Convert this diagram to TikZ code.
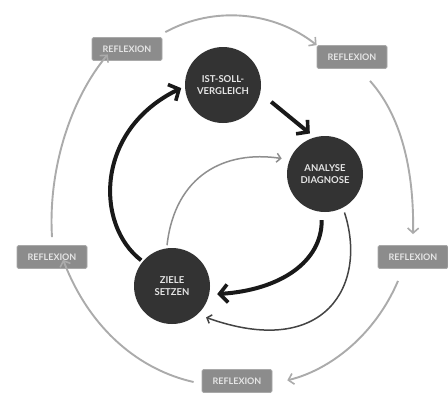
\documentclass[tikz,border=0pt]{standalone}
\usepackage{fontspec}
\setmainfont{Lato}
\usetikzlibrary{arrows.meta}
\definecolor{circ}{HTML}{333333}
\definecolor{boxc}{HTML}{8C8C8C}
\definecolor{arcc}{HTML}{ABABAB}
\definecolor{thinc}{HTML}{444444}
\tikzset{
  phase/.style={circle,fill=circ,minimum size=76pt,inner sep=0pt,text=white!90!black,
    font=\fontsize{9.5}{12}\selectfont\bfseries,align=center},
  refl/.style={rectangle,rounded corners=1.5pt,fill=boxc,draw=boxc!75,line width=0.8pt,minimum width=70pt,
    minimum height=23pt,text=white!90!black,font=\fontsize{9}{10}\selectfont\bfseries},
  outerarc/.style={draw=arcc,line width=1.9pt,-{Straight Barb[length=5pt,width=11pt,line width=1.6pt]}},
  thick arc/.style={draw=black!90,line width=4pt,-{Straight Barb[length=8pt,width=18pt,line width=3.6pt]}},
  thin arc/.style={line width=1.5pt,-{Straight Barb[length=4pt,width=9pt,line width=1.5pt]}}
}
\begin{document}
\begin{tikzpicture}[x=1pt,y=-1pt]
\useasboundingbox[fill=white] (0,0) rectangle (448,400);
% circles
\node[phase] (ist) at (223,85) {IST-SOLL-\\VERGLEICH};
\node[phase] (ana) at (325,174) {ANALYSE\\DIAGNOSE};
\node[phase] (zie) at (172,286) {ZIELE\\SETZEN};
% reflexion boxes
\node[refl] (rtl) at (127,49) {REFLEXION};
\node[refl] (rtr) at (352,57) {REFLEXION};
\node[refl] (rr) at (413,257) {REFLEXION};
\node[refl] (rb) at (237,381) {REFLEXION};
\node[refl] (rl) at (52,257) {REFLEXION};
% outer arcs
\draw[outerarc] (rtl.north east) ++(3,-5) coordinate (a1)
  (a1) .. controls (215,5) and (275,12) .. (rtr.north west);
\draw[outerarc,shorten >=3pt] (rtr.south) ++(18,12) coordinate (a2)
  (a2) .. controls (405,120) and (414,180) .. ([yshift=8pt]rr.north);
\draw[outerarc,shorten >=3pt] (rr.south) ++(-15,12) coordinate (a3)
  (a3) .. controls (375,335) and (330,370) .. ([xshift=12pt]rb.east);
\draw[outerarc,shorten >=3pt] (rb.west) ++(-8,1) coordinate (a4)
  (a4) .. controls (140,370) and (90,330) .. ([xshift=10pt,yshift=12pt]rl.south);
\draw[outerarc,shorten >=2pt] (rl.north) ++(0,-8) coordinate (a5)
  (a5) .. controls (48,170) and (70,100) .. ([xshift=-18pt,yshift=8pt]rtl.south);
% thick black arrows
\draw[thick arc,shorten <=14pt,shorten >=6pt] (ist.-12) -- (ana.106);
\draw[thick arc,shorten <=8pt,shorten >=8pt] (ana.-95) .. controls (322,262) and (280,290) .. (zie.-13);
\draw[thick arc,shorten <=2pt,shorten >=4pt] (zie.140) .. controls (95,225) and (95,130) .. (ist.182);
% thin inner arrows
\draw[thin arc,draw=thinc!60,shorten <=3pt,shorten >=8pt] (zie.98) .. controls (175,175) and (225,150) .. (ana.158);
\draw[thin arc,draw=thinc,shorten <=5pt,shorten >=9pt] (ana.-62) .. controls (368,285) and (325,360) .. (zie.-48);
\end{tikzpicture}
\end{document}
